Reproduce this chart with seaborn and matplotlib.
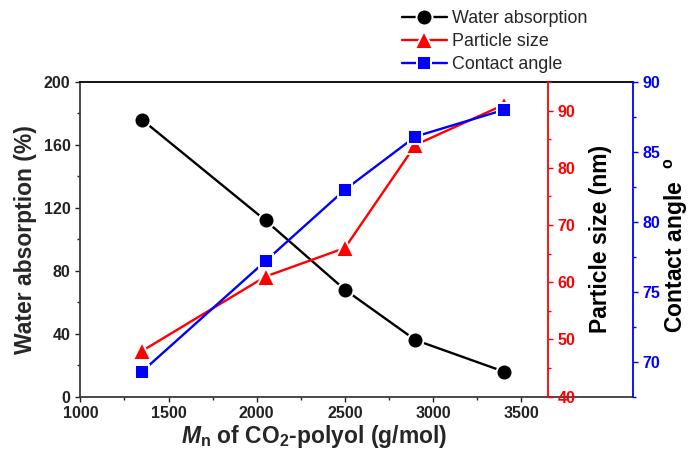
import matplotlib
matplotlib.use("Agg")
import matplotlib.pyplot as plt
import seaborn as sns
import pandas as pd
from matplotlib.ticker import MultipleLocator
from matplotlib.lines import Line2D

# ---- data ----
mn = [1350, 2050, 2500, 2900, 3400]
water_absorption = [176, 112, 68, 36, 16]
particle_size = [48, 61, 66, 84, 91]
contact_angle = [69.3, 77.2, 82.3, 86.1, 88.0]

df = pd.DataFrame({"mn": mn, "water": water_absorption,
                   "particle": particle_size, "contact": contact_angle})

sns.set_style("ticks")
plt.rcParams["font.family"] = ["Liberation Sans", "DejaVu Sans"]
plt.rcParams["font.weight"] = "bold"
plt.rcParams["axes.labelweight"] = "bold"
plt.rcParams["mathtext.fontset"] = "custom"
plt.rcParams["mathtext.rm"] = "Liberation Sans:bold"
plt.rcParams["mathtext.bf"] = "Liberation Sans:bold"
plt.rcParams["mathtext.it"] = "Liberation Sans:italic:bold"
plt.rcParams["xtick.direction"] = "out"
plt.rcParams["ytick.direction"] = "out"

fig = plt.figure(figsize=(6.89, 4.59), dpi=100)
ax = fig.add_axes([0.1166, 0.1357, 0.6784, 0.6857])
ax2 = ax.twinx()
ax3 = ax.twinx()

lw = 1.7
common = dict(markeredgecolor="white", markeredgewidth=1.4, linewidth=lw)

sns.lineplot(data=df, x="mn", y="water", ax=ax, color="black", marker="o",
             markersize=11.5, label="Water absorption", legend=False, **common)
sns.lineplot(data=df, x="mn", y="particle", ax=ax2, color="red", marker="^",
             markersize=13.5, label="Particle size", legend=False, **common)
sns.lineplot(data=df, x="mn", y="contact", ax=ax3, color="blue", marker="s",
             markersize=10.5, label="Contact angle", legend=False, **common)

LABEL_FS = 16.5
TICK_FS = 11.5

# main axis
ax.set_xlim(1000, 3650)
ax.set_ylim(0, 200)
ax.xaxis.set_major_locator(MultipleLocator(500))
ax.xaxis.set_minor_locator(MultipleLocator(250))
ax.yaxis.set_major_locator(MultipleLocator(40))
ax.yaxis.set_minor_locator(MultipleLocator(20))
ax.tick_params(which="major", length=3.5, width=1, labelsize=TICK_FS, colors="#222222")
ax.tick_params(which="minor", length=2.2, width=1, colors="#222222")
ax.set_xlabel(r"$\mathit{M}_\mathrm{n}$ of CO$_\mathrm{2}$-polyol (g/mol)", fontsize=LABEL_FS, labelpad=1)
ax.set_ylabel("Water absorption (%)", fontsize=LABEL_FS, labelpad=5)
for s in ["left", "bottom"]:
    ax.spines[s].set_color("#3a3a3a")
    ax.spines[s].set_linewidth(1.3)
ax.spines["top"].set_color("black")
ax.spines["top"].set_linewidth(1.3)
ax.spines["right"].set_visible(False)

# red axis
ax2.set_ylim(40, 95)
ax2.yaxis.set_major_locator(MultipleLocator(10))
ax2.yaxis.set_minor_locator(MultipleLocator(5))
for s in ["left", "top", "bottom"]:
    ax2.spines[s].set_visible(False)
ax2.spines["right"].set_color("red")
ax2.spines["right"].set_linewidth(1.3)
ax2.tick_params(axis="y", which="both", colors="red", width=1)
ax2.tick_params(axis="y", which="major", length=3.5, labelsize=TICK_FS)
ax2.tick_params(axis="y", which="minor", length=2.2)
ax2.set_ylabel("Particle size (nm)", fontsize=LABEL_FS, color="black", labelpad=10)

# blue axis
ax3.spines["right"].set_position(("outward", 61.4))
ax3.set_ylim(67.5, 90)
ax3.yaxis.set_major_locator(MultipleLocator(5))
ax3.yaxis.set_minor_locator(MultipleLocator(2.5))
for s in ["left", "top", "bottom"]:
    ax3.spines[s].set_visible(False)
ax3.spines["right"].set_color("blue")
ax3.spines["right"].set_linewidth(1.3)
ax3.tick_params(axis="y", which="both", colors="blue", width=1)
ax3.tick_params(axis="y", which="major", length=3.5, labelsize=TICK_FS)
ax3.tick_params(axis="y", which="minor", length=2.2)
ax3.set_ylabel(r"Contact angle  $^\mathbf{o}$", fontsize=LABEL_FS, color="black")
ax3.yaxis.set_label_coords(1.247, 0.481)

# frame extension to the blue axis
ext = 1 + 85.3 / 467.4
ax.add_line(Line2D([1, ext], [1, 1], transform=ax.transAxes, color="black",
                   lw=1.3, clip_on=False))
ax.add_line(Line2D([1, ext], [0, 0], transform=ax.transAxes, color="#3a3a3a",
                   lw=1.3, clip_on=False))

# legend
handles = []
for a in (ax, ax2, ax3):
    handles += a.get_lines()[:1]
labels = ["Water absorption", "Particle size", "Contact angle"]
fig.legend(handles, labels, loc="upper left", bbox_to_anchor=(0.578, 0.985),
           frameon=False, prop={"size": 12.9, "weight": "normal"},
           handlelength=2.5, handletextpad=0.3, labelspacing=0.32,
           borderpad=0.2, borderaxespad=0)

fig.savefig("out.png", dpi=100)
